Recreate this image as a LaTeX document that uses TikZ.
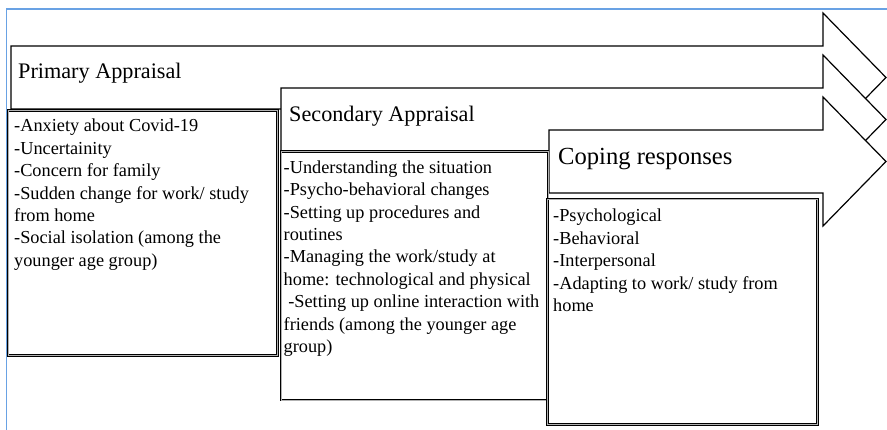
\documentclass[tikz,border=0pt]{standalone}
\usepackage{fontspec}
\setmainfont{Liberation Serif}
\usetikzlibrary{positioning}
\definecolor{frameblue}{RGB}{105,162,228}

\begin{document}
\begin{tikzpicture}[x=1pt, y=-1pt,
    frame/.style={draw=frameblue, line width=1.5pt},
    stage/.style={draw=black, line width=1.2pt, fill=white, line join=miter},
    listbox/.style={draw=black, double=black!30, double distance=0.5pt, line width=0.8pt,
      fill=white, inner sep=0pt, outer sep=0pt, anchor=north west},
    stagetitle/.style={anchor=base west, inner sep=0pt,
      font=\fontsize{22.2}{26}\selectfont},
    listtext/.style={anchor=north west, inner sep=0pt, align=left,
      font=\fontsize{18.3}{22.4}\selectfont}]
  \useasboundingbox (0,0) rectangle (887,430);

  % frame along the top and the left
  \draw[frame] (887,9) -- (6.5,9) -- (6.5,430);

  % three stage arrows, each one over the one before
  \foreach \n/\l/\t in {1/11/46, 2/281/88, 3/549/130}{
    \draw[stage] (\l,\t) -- (823,\t) -- (823,\t-33) -- (886,\t+31.5)
      -- (823,\t+96) -- (823,\t+63) -- (\l,\t+63) -- cycle;
  }
  \node[stagetitle] (primary) at (18,79) {Primary Appraisal};
  \node[stagetitle] (secondary) at (289,122) {Secondary Appraisal};
  \node[stagetitle, font=\fontsize{24.6}{29}\selectfont] (coping) at (558,165)
    {Coping responses};

  % boxes under the arrows
  \node[listbox, minimum width=269.5, minimum height=245] (box1) at (8,110.5) {};
  \node[listbox, minimum width=267, minimum height=248.5] (box2) at (281,151.5) {};
  \node[listbox, minimum width=270, minimum height=225.5] (box3) at (547.5,199) {};

  \node[listtext, below right=8.5pt and 6pt of box1.north west] (stressors)
    {-Anxiety about Covid-19\\-Uncertainity\\-Concern for family\\
     -Sudden change for work/ study\\from home\\
     -Social isolation (among the\\younger age group)};
  \node[listtext, below right=9pt and 2.5pt of box2.north west] (appraisals)
    {-Understanding the situation\\-Psycho-behavioral changes\\
     -Setting up procedures and\\routines\\-Managing the work/study at\\
     home: technological and physical\\
     \hspace*{0.25em}-Setting up online interaction with\\
     friends (among the younger age\\group)};
  \node[listtext, below right=10pt and 5.5pt of box3.north west] (responses)
    {-Psychological\\-Behavioral\\-Interpersonal\\
     -Adapting to work/ study from\\home};
\end{tikzpicture}
\end{document}
